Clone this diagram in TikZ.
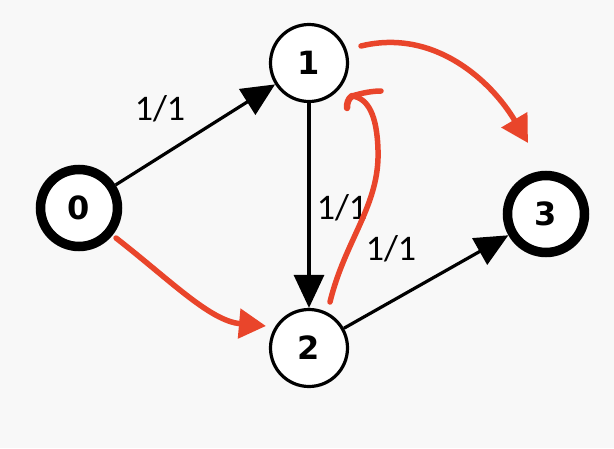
\documentclass[tikz,border=0pt]{standalone}
\usepackage{fontspec}
\usetikzlibrary{arrows.meta}
\newfontfamily\labelfont{Carlito}
\newfontfamily\numfont{DejaVu Sans}
\definecolor{bgGray}{HTML}{F8F8F8}
\definecolor{flowRed}{HTML}{E9452B}
\newcommand*{\wMax}{614}
\newcommand*{\hMax}{448}
\tikzset{
	vertex/.style={circle,draw=black,fill=white,line width=3.2pt,minimum size=77pt,inner sep=0pt,font=\fontsize{32}{32}\selectfont\numfont\bfseries},
	terminal/.style={vertex,line width=9.5pt},
	edge/.style={line width=3.2pt,-{Triangle[length=33pt,width=30pt]}},
	flowlabel/.style={font=\fontsize{36}{36}\selectfont\labelfont,inner sep=0pt},
	residual/.style={draw=flowRed,line width=5.5pt,line cap=round},
	redtip/.style={-{Triangle[length=27pt,width=29pt]}}
}

\begin{document}
\begin{tikzpicture}[x=1pt,y=-1pt]
	\fill[bgGray] (0,0) rectangle (\wMax,\hMax);
	\useasboundingbox (0,0) rectangle (\wMax,\hMax);

	% vertices
	\node[terminal] (n0) at (79,208) {0};
	\node[vertex] (n1) at (309,63) {1};
	\node[vertex] (n2) at (309,348) {2};
	\node[terminal] (n3) at (546,214) {3};

	% flow edges
	\draw[edge] (n0) -- (n1);
	\draw[edge] (n1) -- (n2);
	\draw[edge] (n2) -- (n3);
	\node[flowlabel] (f01) at (160,109) {1/1};
	\node[flowlabel] (f12) at (342,208) {1/1};
	\node[flowlabel] (f23) at (391,249) {1/1};

	% residual arrows
	\coordinate (r0a) at (116,238);
	\coordinate (r0b) at (266,326);
	\coordinate (r1a) at (361,46);
	\coordinate (r1b) at (528,143);
	\coordinate (r2a) at (330,302);
	\coordinate (r2b) at (352,96);
	\draw[residual,redtip] (r0a) .. controls (170,280) and (210,321) .. (r0b);
	\draw[residual,redtip] (r1a) .. controls (435,28) and (492,82) .. (r1b);
	\draw[residual] (r2a) .. controls (345,240) and (380,205) .. (378,150) .. controls (377,115) and (368,98) .. (r2b);
	\draw[residual] (r2b) .. controls (362,93) and (372,91) .. (381,91);
	\draw[residual,line width=6.5pt] (r2b) .. controls (348,99) and (347,103) .. (347,108);
\end{tikzpicture}
\end{document}
